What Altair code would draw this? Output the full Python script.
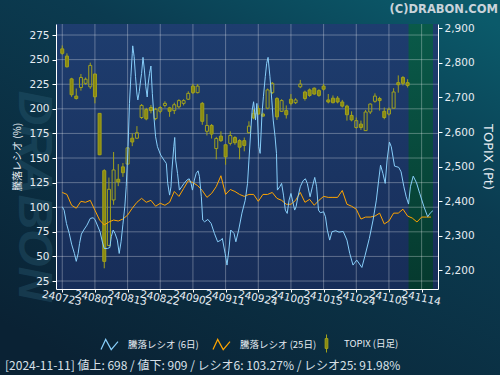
import json
import altair as alt
import pandas as pd

# ---------------- data ----------------
dates = [
    "240723", "240724", "240725", "240726", "240729", "240730", "240731",
    "240801", "240802", "240805", "240806", "240807", "240808", "240809",
    "240813", "240814", "240815", "240816", "240819", "240820", "240821",
    "240822", "240823", "240826", "240827", "240828", "240829", "240830",
    "240902", "240903", "240904", "240905", "240906", "240909", "240910",
    "240911", "240912", "240913", "240917", "240918", "240919", "240920",
    "240924", "240925", "240926", "240927", "240930", "241001", "241002",
    "241003", "241004", "241007", "241008", "241009", "241010", "241011",
    "241015", "241016", "241017", "241018", "241021", "241022", "241023",
    "241024", "241025", "241028", "241029", "241030", "241031", "241101",
    "241105", "241106", "241107", "241108", "241111", "241112", "241113",
    "241114", "241115", "241118",
]

topix_open = [2841, 2820, 2754, 2704, 2729, 2741, 2731, 2768, 2654, 2488,
              2271, 2403, 2463, 2499, 2507, 2582, 2582, 2642, 2665, 2671,
              2639, 2660, 2677, 2670, 2662, 2673, 2683, 2695, 2733, 2714,
              2683, 2602, 2619, 2552, 2588, 2563, 2567, 2584, 2575, 2575,
              2598, 2654, 2668, 2652, 2669, 2714, 2697, 2660, 2662, 2695,
              2685, 2731, 2716, 2722, 2727, 2720, 2733, 2693, 2698, 2698,
              2687, 2675, 2648, 2613, 2623, 2604, 2658, 2689, 2697, 2660,
              2652, 2669, 2743, 2758, 2743]
topix_high = [2851, 2828, 2757, 2726, 2768, 2758, 2801, 2769, 2655, 2492,
              2468, 2542, 2507, 2510, 2556, 2596, 2617, 2681, 2670, 2678,
              2670, 2675, 2689, 2673, 2685, 2695, 2695, 2718, 2739, 2739,
              2687, 2652, 2623, 2586, 2602, 2565, 2602, 2588, 2579, 2584,
              2631, 2666, 2677, 2656, 2726, 2745, 2701, 2695, 2677, 2710,
              2698, 2751, 2720, 2726, 2729, 2724, 2739, 2710, 2706, 2704,
              2693, 2679, 2660, 2642, 2633, 2664, 2683, 2712, 2702, 2671,
              2671, 2727, 2764, 2762, 2753]
topix_low = [2824, 2787, 2702, 2694, 2720, 2737, 2725, 2683, 2533, 2205,
             2269, 2389, 2443, 2470, 2505, 2559, 2580, 2638, 2634, 2654,
             2634, 2654, 2671, 2644, 2652, 2668, 2677, 2693, 2710, 2712,
             2621, 2590, 2581, 2521, 2571, 2505, 2561, 2563, 2521, 2544,
             2596, 2637, 2650, 2644, 2666, 2710, 2635, 2658, 2639, 2677,
             2681, 2727, 2691, 2702, 2708, 2702, 2720, 2683, 2683, 2683,
             2671, 2633, 2631, 2610, 2606, 2604, 2652, 2685, 2662, 2637,
             2648, 2669, 2714, 2735, 2729]
topix_close = [2828, 2789, 2708, 2697, 2758, 2753, 2793, 2702, 2534, 2225,
               2434, 2490, 2455, 2482, 2554, 2571, 2598, 2677, 2638, 2662,
               2666, 2671, 2683, 2660, 2679, 2691, 2691, 2712, 2714, 2733,
               2631, 2619, 2594, 2581, 2575, 2528, 2590, 2569, 2556, 2561,
               2617, 2641, 2652, 2646, 2722, 2741, 2644, 2691, 2650, 2683,
               2693, 2739, 2697, 2706, 2710, 2706, 2724, 2687, 2685, 2687,
               2675, 2650, 2635, 2633, 2613, 2658, 2681, 2704, 2691, 2642,
               2666, 2716, 2737, 2741, 2735]

ratio25 = [115, 113, 102, 99, 106, 105, 107, 97, 87, 82,
           85, 87, 86, 88, 92, 99, 105, 109, 105, 107,
           101, 104, 102, 105, 116, 111, 119, 127, 125, 122,
           117, 110, 114, 121, 132, 113, 118, 116, 113, 111,
           113, 113, 106, 113, 113, 115, 109, 107, 103, 103,
           107, 115, 105, 108, 102, 107, 111, 110, 110, 110,
           117, 103, 101, 98, 88, 90, 90, 91, 94, 83,
           86, 94, 94, 98, 91, 89, 85, 90, 90, 90]

ratio6_x = [0, 0.4, 0.9, 1.5, 2.0, 2.6, 3.0, 3.4, 3.7, 4.1, 4.6, 5.3, 6.0, 6.6,
            7.0, 7.6, 8.1, 8.6, 9.0, 9.7, 10.2, 10.5, 10.9, 11.3, 11.8, 12.2,
            12.6, 13.0, 13.4, 13.7, 14.1, 14.4, 14.7, 15.0, 15.1, 15.4, 15.7,
            16.0, 16.2, 16.5, 16.8, 17.0, 17.3, 17.6, 17.9, 18.2, 18.4, 18.7,
            19.0, 19.3, 19.7, 20.0, 20.4, 21.1, 21.8, 22.3, 22.6, 23.0, 23.3,
            23.5, 23.9, 24.1, 24.3, 24.7, 25.1, 25.6, 26.1, 26.7, 27.2, 27.6,
            27.9, 28.3, 28.7, 29.1, 29.4, 29.8, 30.1, 30.5, 31.2, 31.9, 32.6,
            33.3, 34.0, 34.3, 34.9, 35.3, 35.7, 36.1, 36.8, 37.2, 37.8, 38.5,
            39.2, 39.7, 40.0, 40.4, 40.7, 41.0, 41.4, 41.7, 42.1, 42.4, 42.8,
            43.1, 43.5, 43.8, 44.1, 44.5, 44.9, 45.2, 45.6, 45.9, 46.1, 46.6,
            47.0, 47.4, 47.8, 48.2, 48.6, 49.0, 49.4, 49.8, 50.1, 50.5, 51.0,
            51.6, 52.1, 52.5, 53.1, 53.6, 54.1, 54.5, 54.9, 55.3, 56.0, 56.4,
            56.8, 57.3, 57.8, 58.6, 59.3, 60.2, 61.0, 61.6, 62.3, 63.1, 64.2,
            64.9, 65.8, 66.6, 67.3, 67.8, 68.2, 68.7, 69.2, 69.6, 70.1, 70.5,
            71.2, 72.1, 72.6, 73.2, 73.7, 74.2, 74.6, 75.2, 75.9, 76.6, 77.5,
            78.3, 78.9, 79.4]
ratio6_y = [100.5, 97, 83.5, 73.4, 62.5, 53, 45, 53, 63, 72.7, 76.8, 81.8, 88.6, 89.3,
            87.6, 80.8, 75, 64.6, 58.1, 58.1, 59.1, 70, 76.8, 73.4, 66.6, 53,
            64.9, 82.8, 100.5, 120.8, 161.5, 205.5, 232.6, 256, 264, 253, 232.6,
            215, 209, 217.4, 229.2, 236, 252.3, 239.4, 222.4, 212, 225, 236,
            243.5, 215.7, 188.6, 171.6, 161.5, 153, 147.9, 144.5, 124.2, 112.3, 120.8,
            137.7, 161.5, 170.9, 147.9, 134.4, 117.4, 120.8, 124.2, 127.6, 128.9, 124.2,
            117.4, 127.6, 134.4, 137, 131, 110.6, 87, 85.2, 87.6, 83.5, 73.4,
            64.9, 66.6, 68.3, 53, 41.2, 56.4, 76.8, 73.4, 64.9, 76.8, 94,
            107, 124.2, 147.9, 178.4, 198.7, 207.2, 188.6, 205.5, 161.5, 154.7, 195.3,
            212.3, 232.6, 246.2, 252.3, 232.6, 208.9, 188.6, 171.6, 154.7, 117.4, 120.8,
            124.2, 112.3, 97.1, 93.7, 107.2, 114, 105.5, 97.1, 100.5, 110.6, 120.8,
            126.9, 128.9, 124.2, 110.6, 120.8, 130.3, 120.8, 97.1, 94.4, 95.4, 90.3,
            76.8, 66.6, 75.1, 76.1, 74.7, 75.4, 66.6, 53, 41.2, 46.3, 38.8,
            51.3, 68.3, 87, 107.2, 127.6, 142.8, 134.4, 124.2, 147.9, 166.2, 161.5,
            141.8, 140.5, 136, 120.8, 110.6, 103.2, 120.8, 131.6, 124.9, 114, 100.5,
            90.3, 94.4, 96.4]

left_ticks = [25, 50, 75, 100, 125, 150, 175, 200, 225, 250, 275]
right_ticks = [2200, 2300, 2400, 2500, 2600, 2700, 2800, 2900]
x_ticks = [0, 7, 14, 21, 28, 35, 42, 49, 56, 63, 70, 77]
shade_start = 74.2

series_names = ["騰落レシオ (6日)", "騰落レシオ (25日)"]
topix_name = "TOPIX (日足)"
footer_date = "2024-11-11"
n_up, n_down = 698, 909
r6_last, r25_last = 103.27, 91.98

# ---------------- scales / styles ----------------
X_DOMAIN = [-0.27, 79.44]
LEFT_DOMAIN = [16.9, 286.2]
RIGHT_DOMAIN = [2145, 2913]

W, H = 382, 265
TXT = "#e6ecf2"
OLIVE_FILL = "#8a8a10"
OLIVE_LINE = "#a2a21c"
NUM_FONT = "DejaVu Sans"
JP_FONT = "Noto Sans CJK JP"

xsc = alt.Scale(domain=X_DOMAIN, nice=False, zero=False)
lsc = alt.Scale(domain=LEFT_DOMAIN, nice=False, zero=False)
rsc = alt.Scale(domain=RIGHT_DOMAIN, nice=False, zero=False)

one = pd.DataFrame({"k": [0]})

def grad(stops, x1=0, y1=0, x2=0, y2=1):
    return alt.Gradient(gradient="linear", x1=x1, y1=y1, x2=x2, y2=y2,
                        stops=[alt.GradientStop(color=c, offset=o) for o, c in stops])

label_expr = json.dumps(dates) + "[datum.value]"
xaxis = alt.Axis(values=x_ticks, labelExpr=label_expr, labelAngle=12, labelAlign="center",
                 labelBaseline="top", labelFont=NUM_FONT, labelFontSize=10.5, labelColor=TXT,
                 labelPadding=1, tickColor="white", tickSize=3, domainColor="white",
                 domainWidth=1, grid=False, title=None, labelOverlap=False,
                 labelFlush=False, zindex=1)
laxis = alt.Axis(values=left_ticks, orient="left", title="騰落レシオ (%)", titleFont=JP_FONT,
                 titleFontSize=10, titleFontWeight="normal", titleColor=TXT, titlePadding=6,
                 labelFont=NUM_FONT, labelFontSize=10.5, labelColor=TXT, labelPadding=3,
                 tickColor="white", tickSize=4, domainColor="white", grid=False, zindex=1)
raxis = alt.Axis(values=right_ticks, orient="right", format=",d", title="TOPIX (Pt)",
                 titleFont=NUM_FONT, titleFontSize=13, titleFontWeight="normal",
                 titleColor=TXT, titlePadding=6, labelFont=NUM_FONT, labelFontSize=10.5,
                 labelColor=TXT, labelPadding=2, tickColor="white", tickSize=4,
                 domainColor="white", grid=False, zindex=1)

def X(field):
    return alt.X(field, scale=xsc, axis=xaxis)

bg = alt.Chart(one).mark_rect(
    color=grad([(0, "#0b5a6a"), (0.35, "#0b3b50"), (1, "#0a2234")], x1=0.9, y1=0, x2=0.2, y2=1)
).encode(x=alt.value(-56), x2=alt.value(444), y=alt.value(-24), y2=alt.value(351))

watermark = alt.Chart(one).mark_text(
    text="DRABON", angle=90, font="Liberation Sans", fontSize=48, fontWeight="bold",
    fontStyle="italic", color="#2d6078", opacity=0.35, align="center", baseline="middle"
).encode(x=alt.value(-23), y=alt.value(172))

copyright_txt = alt.Chart(one).mark_text(
    text="(C)DRABON.COM", font=NUM_FONT, fontSize=11.5, fontWeight="bold",
    color="#c9d3da", align="right", baseline="alphabetic"
).encode(x=alt.value(442), y=alt.value(-11.5))

footer_str = (f"[{footer_date}]  値上: {n_up} / 値下: {n_down} / "
              f"レシオ6: {r6_last:.2f}% / レシオ25: {r25_last:.2f}%")
footer_txt = alt.Chart(one).mark_text(
    text=footer_str, font=JP_FONT, fontSize=12,
    color="#d8e0e8", align="left", baseline="alphabetic"
).encode(x=alt.value(-51), y=alt.value(345.5))

plot_bg = alt.Chart(one).mark_rect(
    color=grad([(0, "#1e3d6f"), (1, "#172d58")])
).encode(x=alt.value(0), x2=alt.value("width"), y=alt.value(0), y2=alt.value("height"))

shade_df = pd.DataFrame({"s": [shade_start], "e": [X_DOMAIN[1]]})
green = alt.Chart(shade_df).mark_rect(
    color=grad([(0, "#0a5a49"), (1, "#05392e")])
).encode(x=X("s:Q"), x2="e:Q", y=alt.value(0), y2=alt.value("height"))

gridx = alt.Chart(pd.DataFrame({"t": x_ticks})).mark_rule(
    color="white", opacity=0.3, strokeWidth=1
).encode(x=X("t:Q"), y=alt.value(0), y2=alt.value("height"))

gridy = alt.Chart(pd.DataFrame({"v": left_ticks})).mark_rule(
    color="white", opacity=0.3, strokeWidth=1
).encode(y=alt.Y("v:Q", scale=lsc, axis=laxis), x=alt.value(0), x2=alt.value("width"))

# candles
cdf = pd.DataFrame({"idx": list(range(len(topix_open))), "open": topix_open,
                    "high": topix_high, "low": topix_low, "close": topix_close})
cdf["name"] = topix_name
cbase = alt.Chart(cdf).transform_calculate(
    top="max(datum.open, datum.close)", bot="min(datum.open, datum.close)")
wick_hi = cbase.mark_rule(color=OLIVE_LINE, strokeWidth=1).encode(
    x=X("idx:Q"), y=alt.Y("high:Q", scale=rsc, axis=raxis), y2="top:Q")
wick_lo = cbase.mark_rule(color=OLIVE_LINE, strokeWidth=1).encode(
    x=X("idx:Q"), y=alt.Y("bot:Q", scale=rsc, axis=raxis), y2="low:Q")
candle_legend = alt.Legend(
    orient="none", legendX=261, legendY=310, title=None, direction="horizontal",
    symbolType="M0,-1V-0.55M-0.15,-0.55H0.15V0.55H-0.15ZM0,0.55V1",
    symbolSize=324, symbolStrokeColor=OLIVE_LINE, symbolStrokeWidth=1,
    labelFont=JP_FONT, labelFontSize=9.5, labelColor=TXT, labelOffset=8,
    padding=0, zindex=1)
body_dn = cbase.transform_filter("datum.close < datum.open").mark_bar(
    size=3, stroke=OLIVE_LINE, strokeWidth=1
).encode(x=X("idx:Q"), y=alt.Y("open:Q", scale=rsc, axis=raxis), y2="close:Q",
         fill=alt.Fill("name:N", scale=alt.Scale(domain=[topix_name], range=[OLIVE_FILL]),
                       legend=candle_legend))
body_up = cbase.transform_filter("datum.close >= datum.open").mark_bar(
    size=3, fill="transparent", stroke=OLIVE_LINE, strokeWidth=1
).encode(x=X("idx:Q"), y=alt.Y("open:Q", scale=rsc, axis=raxis), y2="close:Q")
candles = alt.layer(wick_hi, wick_lo, body_dn, body_up)

# ratio lines
line_legend = alt.Legend(
    orient="none", legendX=44, legendY=311, title=None, direction="horizontal",
    symbolType="M-1,0.6L-0.45,-0.6L0.2,0.6L1,-0.35", symbolSize=289,
    symbolStrokeWidth=1.2, labelFont=JP_FONT, labelFontSize=9.5, labelColor=TXT,
    labelOffset=9, columnPadding=11, padding=0, zindex=1)
cscale = alt.Scale(domain=series_names, range=["#87cefa", "#ffa500"])
r25_df = pd.DataFrame({"idx": list(range(len(ratio25))), "value": ratio25,
                       "series": series_names[1]})
r6_df = pd.DataFrame({"idx": ratio6_x, "value": ratio6_y, "series": series_names[0]})
line25 = alt.Chart(r25_df).mark_line(strokeWidth=1).encode(
    x=X("idx:Q"), y=alt.Y("value:Q", scale=lsc, axis=None),
    color=alt.Color("series:N", scale=cscale, legend=line_legend))
line6 = alt.Chart(r6_df).mark_line(strokeWidth=1).encode(
    x=X("idx:Q"), y=alt.Y("value:Q", scale=lsc, axis=None),
    color=alt.Color("series:N", scale=cscale, legend=line_legend))
lines = alt.layer(line25, line6)

chart = alt.layer(
    bg, watermark, copyright_txt, footer_txt, plot_bg, green, gridx, gridy, candles, lines
).resolve_scale(y="independent").properties(
    width=W, height=H,
    padding={"left": 56, "top": 24, "right": 62, "bottom": 86},
    autosize=alt.AutoSizeParams(type="none"),
).configure(background="#0a2a3e").configure_view(stroke=None)

chart.save("out.html", embed_options={"renderer": "svg", "actions": False})
